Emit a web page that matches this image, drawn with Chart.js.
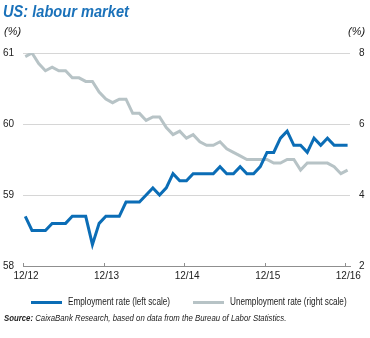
<!DOCTYPE html>
<html>
<head>
<meta charset="utf-8">
<script src="https://cdn.jsdelivr.net/npm/chart.js@4.4.1/dist/chart.umd.min.js"></script>
<style>
  html, body { margin: 0; padding: 0; background: #fff; }
  #wrap { position: relative; width: 370px; height: 338px; overflow: hidden; font-family: "Liberation Sans", "Open Sans", sans-serif; color: #222; }
  #c { position: absolute; left: 0; top: 0; }
  .txt { position: absolute; white-space: nowrap; transform-origin: 0 50%; }
  #title { left: 3px; top: 2px; font-size: 17px; line-height: 20px; font-weight: bold; font-style: italic; color: #1b72ba; transform: scaleX(0.86); }
  .unit { top: 24px; font-size: 11px; line-height: 14px; font-style: italic; color: #222; }
  .leg { top: 296px; font-size: 10px; line-height: 12px; color: #222; transform: scaleX(0.82); }
  .swatch { position: absolute; top: 301px; width: 31px; height: 3px; }
  #source { left: 4px; top: 312px; font-size: 9.5px; line-height: 12px; font-style: italic; color: #222; transform: scaleX(0.82); }
</style>
</head>
<body>
<div id="wrap">
  <canvas id="c" width="370" height="338"></canvas>
  <div id="title" class="txt">US: labour market</div>
  <div class="txt unit" style="left:4px">(%)</div>
  <div class="txt unit" style="left:348px">(%)</div>
  <div class="swatch" id="sw1" style="left:31px"></div>
  <div class="txt leg" id="lg1" style="left:68px"></div>
  <div class="swatch" id="sw2" style="left:193px"></div>
  <div class="txt leg" id="lg2" style="left:230px"></div>
  <div id="source" class="txt"><b>Source:</b> CaixaBank Research, based on data from the Bureau of Labor Statistics.</div>
</div>
<script>
// Monthly observations, Dec 2012 to Dec 2016
const months = ["2012-12","2013-01","2013-02","2013-03","2013-04","2013-05","2013-06","2013-07","2013-08","2013-09","2013-10","2013-11","2013-12",
  "2014-01","2014-02","2014-03","2014-04","2014-05","2014-06","2014-07","2014-08","2014-09","2014-10","2014-11","2014-12",
  "2015-01","2015-02","2015-03","2015-04","2015-05","2015-06","2015-07","2015-08","2015-09","2015-10","2015-11","2015-12",
  "2016-01","2016-02","2016-03","2016-04","2016-05","2016-06","2016-07","2016-08","2016-09","2016-10","2016-11","2016-12"];
const employmentRate = [58.7,58.5,58.5,58.5,58.6,58.6,58.6,58.7,58.7,58.7,58.3,58.6,58.7,
  58.7,58.7,58.9,58.9,58.9,59.0,59.1,59.0,59.1,59.3,59.2,59.2,
  59.3,59.3,59.3,59.3,59.4,59.3,59.3,59.4,59.3,59.3,59.4,59.6,
  59.6,59.8,59.9,59.7,59.7,59.6,59.8,59.7,59.8,59.7,59.7,59.7];
const unemploymentRate = [7.9,8.0,7.7,7.5,7.6,7.5,7.5,7.3,7.3,7.2,7.2,6.9,6.7,
  6.6,6.7,6.7,6.3,6.3,6.1,6.2,6.2,5.9,5.7,5.8,5.6,
  5.7,5.5,5.4,5.4,5.5,5.3,5.2,5.1,5.0,5.0,5.0,5.0,
  4.9,4.9,5.0,5.0,4.7,4.9,4.9,4.9,4.9,4.8,4.6,4.7];
const seriesNames = ["Employment rate (left scale)", "Unemployment rate (right scale)"];
const xTickLabels = ["12/12","12/13","12/14","12/15","12/16"];
const xTickMonths = ["2012-12","2013-12","2014-12","2015-12","2016-12"];
const leftTicks = [58,59,60,61];
const rightTicks = [2,4,6,8];

const BLUE = '#0b6db6';
const GREY = '#b7c3c6';
const TICK_SHIFT = -0.34; // tick marks sit slightly left of the December points

const xTickValues = xTickMonths.map(m => months.indexOf(m) + TICK_SHIFT);
const FONT = '"Liberation Sans", "Open Sans", sans-serif';

// HTML legend built from the dataset names/colours
document.getElementById('sw1').style.background = BLUE;
document.getElementById('sw2').style.background = GREY;
document.getElementById('lg1').textContent = seriesNames[0];
document.getElementById('lg2').textContent = seriesNames[1];

// tick marks crossing the x axis (slightly into the plot)
const crossTicks = {
  id: 'crossTicks',
  afterDraw(chart) {
    const sx = chart.scales.x;
    const ctx = chart.ctx;
    ctx.save();
    ctx.strokeStyle = '#8f8f8f';
    ctx.lineWidth = 1;
    sx.ticks.forEach(t => {
      const px = Math.round(sx.getPixelForValue(t.value)) + 0.5;
      ctx.beginPath();
      ctx.moveTo(px, sx.top - 3);
      ctx.lineTo(px, sx.top + 1);
      ctx.stroke();
    });
    ctx.restore();
  }
};

new Chart(document.getElementById('c'), {
  type: 'line',
  data: {
    datasets: [
      {
        label: seriesNames[0],
        data: employmentRate.map((v, i) => ({ x: i, y: v })),
        borderColor: BLUE, backgroundColor: BLUE, borderWidth: 3,
        pointRadius: 0, tension: 0, yAxisID: 'yL', order: 1,
        borderJoinStyle: 'miter'
      },
      {
        label: seriesNames[1],
        data: unemploymentRate.map((v, i) => ({ x: i, y: v })),
        borderColor: GREY, backgroundColor: GREY, borderWidth: 3,
        pointRadius: 0, tension: 0, yAxisID: 'yR', order: 2,
        borderJoinStyle: 'miter'
      }
    ]
  },
  plugins: [crossTicks],
  options: {
    responsive: false,
    animation: false,
    events: [],
    layout: { padding: { top: 53, left: 3, right: 0, bottom: 54 } },
    plugins: {
      title: { display: false },
      tooltip: { enabled: false },
      legend: { display: false }
    },
    scales: {
      x: {
        type: 'linear',
        min: TICK_SHIFT,
        max: 48.36,
        afterBuildTicks: (scale) => { scale.ticks = xTickValues.map(v => ({ value: v })); },
        ticks: {
          color: '#222', font: { family: FONT, size: 10 }, padding: 2,
          maxRotation: 0, autoSkip: false, labelOffset: 3,
          callback: (val, idx) => xTickLabels[idx]
        },
        grid: { display: true, drawOnChartArea: false, drawTicks: true, tickLength: 2, color: 'rgba(0,0,0,0)' },
        border: { display: true, color: '#8f8f8f', width: 1 }
      },
      yL: {
        type: 'linear', position: 'left',
        min: 58, max: 61,
        afterBuildTicks: (scale) => { scale.ticks = leftTicks.map(v => ({ value: v })); },
        afterFit: (scale) => { scale.width = 20; },
        ticks: { color: '#222', font: { family: FONT, size: 10 }, padding: 9 },
        grid: { drawTicks: false, color: (ctx) => ctx.tick && ctx.tick.value === 58 ? 'rgba(0,0,0,0)' : '#d6d6d6', lineWidth: 1 },
        border: { display: false }
      },
      yR: {
        type: 'linear', position: 'right',
        min: 2, max: 8,
        afterBuildTicks: (scale) => { scale.ticks = rightTicks.map(v => ({ value: v })); },
        afterFit: (scale) => { scale.width = 20; },
        ticks: { color: '#222', font: { family: FONT, size: 10 }, padding: 9 },
        grid: { drawOnChartArea: false, drawTicks: false },
        border: { display: false }
      }
    }
  }
});
</script>
</body>
</html>
